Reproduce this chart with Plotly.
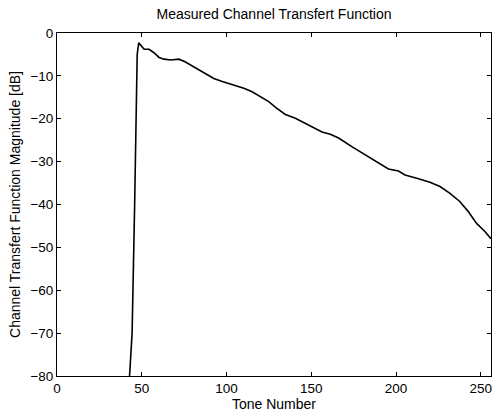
import plotly.graph_objects as go

tones = [42.8, 44.3, 45.8, 46.8, 47.3, 48.2, 51.4, 54.3, 57.2, 60.2, 63.1, 67.1,
         71.9, 75.5, 79.8, 83.7, 88.6, 92.5, 97.5, 103.3, 110.2, 115.1, 120.0,
         124.9, 129.5, 134.7, 140.6, 148.4, 156.3, 161.2, 166.1, 173.9, 181.8,
         189.6, 195.5, 201.4, 205.3, 212.2, 220.0, 225.9, 231.8, 237.6, 242.5,
         247.5, 252.4, 256.0]
magnitude_db = [-80, -70, -40, -20, -5, -2.3, -3.8, -3.8, -4.6, -5.7, -6.1, -6.3,
                -6.1, -6.7, -7.7, -8.6, -9.8, -10.6, -11.3, -12.0, -12.9, -13.7, -14.8,
                -16.0, -17.5, -19.0, -19.9, -21.4, -23.1, -23.6, -24.5, -26.5, -28.4,
                -30.4, -31.7, -32.2, -33.1, -33.9, -34.8, -35.8, -37.4, -39.3, -41.6,
                -44.4, -46.3, -48.0]

x_ticks = [0, 50, 100, 150, 200, 250]
y_ticks = [0, -10, -20, -30, -40, -50, -60, -70, -80]

font_family = "Liberation Sans, Arial, Helvetica, sans-serif"

fig = go.Figure()
fig.add_trace(go.Scatter(x=tones, y=magnitude_db, mode="lines",
                         line=dict(color="black", width=1.6), showlegend=False))

axis_common = dict(showline=True, linecolor="black", linewidth=1, mirror="ticks",
                   ticks="inside", ticklen=4, tickcolor="black", showgrid=False,
                   zeroline=False, tickfont=dict(family=font_family, size=13.5, color="black"))

fig.update_layout(
    width=492, height=414,
    margin=dict(l=57, r=1, t=33, b=38),
    paper_bgcolor="white", plot_bgcolor="white",
    title=dict(text="Measured Channel Transfert Function", x=0.557, xanchor="center",
               y=0.966, yanchor="middle",
               font=dict(family=font_family, size=14, color="black")),
    xaxis=dict(range=[0, 256], tickvals=x_ticks, ticklabeloverflow="allow",
               title=dict(text="Tone Number", standoff=3,
                          font=dict(family=font_family, size=14, color="black")),
               **axis_common),
    yaxis=dict(range=[-80, 0], tickvals=y_ticks,
               title=dict(text="Channel Transfert Function Magnitude [dB]", standoff=6,
                          font=dict(family=font_family, size=14, color="black")),
               **axis_common),
)

# remove the default page margin so the 492x414 figure fills the window exactly
page_fix = ("document.body.style.margin='0';"
            "document.documentElement.style.overflow='hidden';"
            "document.body.style.overflow='hidden';")

fig.write_html("out.html", post_script=page_fix, config={"displayModeBar": False})
